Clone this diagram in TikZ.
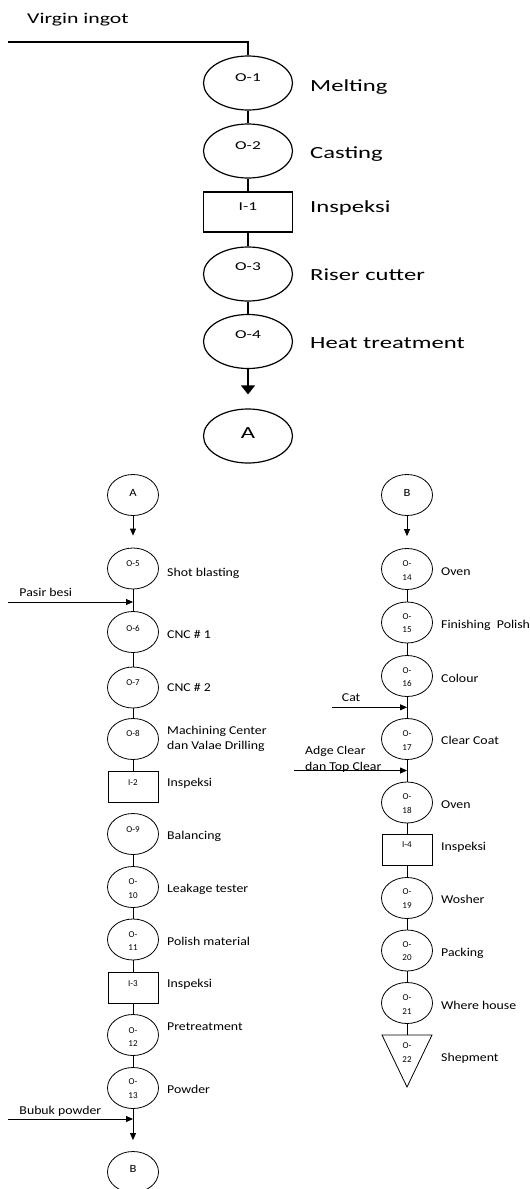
\documentclass[tikz,border=0pt]{standalone}
\usepackage{fontspec}
\setmainfont{Carlito}
\newfontfamily\wideface[FakeStretch=1.45]{Carlito}
\newfontfamily\midface[FakeStretch=1.15]{Carlito}
\usetikzlibrary{shapes.geometric,arrows.meta}

\tikzset{
  bigop/.style={draw, ellipse, line width=1.2pt, minimum width=89pt, minimum height=54pt, inner sep=0pt},
  bigbox/.style={draw, rectangle, line width=1.2pt, minimum width=89pt, minimum height=40pt, inner sep=0pt},
  op/.style={draw, ellipse, line width=0.8pt, minimum width=51pt, minimum height=41pt, inner sep=0pt},
  insp/.style={draw, rectangle, line width=0.8pt, minimum width=50pt, minimum height=31pt, inner sep=0pt},
  bigflow/.style={line width=1.2pt},
  flow/.style={line width=0.8pt},
  bigarr/.style={-{Triangle[width=14pt,length=9pt]}},
  arr/.style={-{Triangle[width=6pt,length=7pt]}},
  bigtxt/.style={anchor=base west, inner sep=0pt, font=\wideface\fontsize{17}{20}\selectfont},
  bigtag/.style={anchor=base, inner sep=0pt, font=\wideface\fontsize{12}{14}\selectfont},
  txt/.style={anchor=base west, inner sep=0pt, align=left, font=\midface\fontsize{12}{15.5}\selectfont},
  tag/.style={anchor=base, inner sep=0pt, align=center, font=\fontsize{9}{13.4}\selectfont},
  conn/.style={anchor=base, inner sep=0pt, font=\midface\fontsize{11}{13}\selectfont}
}

\begin{document}
\begin{tikzpicture}[x=1pt,y=1pt,yscale=-1,xscale=1]
\useasboundingbox (0,0) rectangle (530,1189);

%Shape: Ellipse
\node[bigop] (o1) at (248,83) {};
%Shape: Ellipse
\node[bigop] (o2) at (248,151) {};
%Shape: Rectangle
\node[bigbox] (i1) at (248,212) {};
%Shape: Ellipse
\node[bigop] (o3) at (248,274) {};
%Shape: Ellipse
\node[bigop] (o4) at (248,341.5) {};
%Shape: Ellipse
\node[bigop] (ta) at (248,436) {};
\coordinate (vin) at (8,42);

%Straight Lines
\draw[bigflow] (vin) -| (o1);
\draw[bigflow] (o1) -- (o2);
\draw[bigflow] (o2) -- (i1);
\draw[bigflow] (i1) -- (o3);
\draw[bigflow] (o3) -- (o4);
\draw[bigflow, bigarr, shorten >=14pt] (o4) -- (ta);

% Text Node
\node[bigtxt, font=\wideface\fontsize{15}{18}\selectfont] (vil) at (27,23.3) {Virgin ingot};
\node[bigtag] (o1t) at (248,81.7) {O-1};
\node[bigtxt] (o1l) at (310,91) {Melting};
\node[bigtag] (o2t) at (248,149) {O-2};
\node[bigtxt] (o2l) at (310,158.7) {Casting};
\node[bigtag] (i1t) at (248,210.7) {I-1};
\node[bigtxt] (i1l) at (310,212.3) {Inspeksi};
\node[bigtag] (o3t) at (248,270) {O-3};
\node[bigtxt] (o3l) at (310,280.7) {Riser cutter};
\node[bigtag] (o4t) at (248,338.3) {O-4};
\node[bigtxt] (o4l) at (310,348.3) {Heat treatment};
\node[bigtag, font=\wideface\fontsize{17}{20}\selectfont] (tat) at (248,438.3) {A};

%Shape: Ellipse (left column)
\node[op] (la) at (133,495) {};
\node[op] (o5) at (133,568.5) {};
\node[op] (o6) at (133,632) {};
\node[op] (o7) at (133,687.5) {};
\node[op] (o8) at (133,739) {};
\node[insp] (i2) at (133,786.5) {};
\node[op] (o9) at (133,834) {};
\node[op] (o10) at (133,887) {};
\node[op] (o11) at (133,939.5) {};
\node[insp] (i3) at (133,987.5) {};
\node[op] (o12) at (133,1035) {};
\node[op] (o13) at (133,1088) {};
\node[op] (lb) at (133,1172) {};
\coordinate (pb) at (8,602);
\coordinate (bp) at (8,1119);

%Straight Lines
\draw[flow, arr, shorten >=12pt] (la) -- (o5);
\draw[flow] (o5) -- (o6);
\draw[flow, arr] (pb) -- (pb -| o5);
\draw[flow] (o6) -- (o7);
\draw[flow] (o7) -- (o8);
\draw[flow] (o8) -- (i2);
\draw[flow] (o9) -- (o10);
\draw[flow] (o10) -- (o11);
\draw[flow] (o11) -- (i3);
\draw[flow] (i3) -- (o12);
\draw[flow] (o12) -- (o13);
\draw[flow, arr] (bp) -- (bp -| o13);
\draw[flow, arr, shorten >=11pt] (o13) -- (lb);

% Text Node (two-line nodes sit on their last line)
\node[conn] (lat) at (133,496.7) {A};
\node[tag] (o5t) at (133,566.7) {O-5};
\node[txt] (o5l) at (167,576) {Shot blasting};
\node[txt] (pbl) at (19.3,596.7) {Pasir besi};
\node[tag] (o6t) at (133,631.7) {O-6};
\node[txt] (o6l) at (167,638.3) {CNC \# 1};
\node[tag] (o7t) at (133,685) {O-7};
\node[txt] (o7l) at (167,691) {CNC \# 2};
\node[tag] (o8t) at (133,736) {O-8};
\node[txt] (o8l) at (167,749.5) {Machining Center\\dan Valae Drilling};
\node[tag] (i2t) at (133,785) {I-2};
\node[txt] (i2l) at (167,786) {Inspeksi};
\node[tag] (o9t) at (133,832) {O-9};
\node[txt] (o9l) at (167,839.3) {Balancing};
\node[tag] (o10t) at (133,898.3) {O-\\10};
\node[txt] (o10l) at (167,892.7) {Leakage tester};
\node[tag] (o11t) at (133,950.5) {O-\\11};
\node[txt] (o11l) at (167,945) {Polish material};
\node[tag] (i3t) at (133,986) {I-3};
\node[txt] (i3l) at (167,987.3) {Inspeksi};
\node[tag] (o12t) at (133,1046.5) {O-\\12};
\node[txt] (o12l) at (167,1030.7) {Pretreatment};
\node[tag] (o13t) at (133,1098.3) {O-\\13};
\node[txt] (o13l) at (167,1093.3) {Powder};
\node[txt] (bpl) at (19.3,1114.3) {Bubuk powder};
\node[conn] (lbt) at (133,1172.7) {B};

%Shape: Ellipse (right column)
\node[op] (rb) at (407,495) {};
\node[op] (o14) at (407,569) {};
\node[op] (o15) at (407,622.5) {};
\node[op] (o16) at (407,676) {};
\node[op] (o17) at (407,739) {};
\node[op] (o18) at (407,802.5) {};
\node[insp] (i4) at (407,850) {};
\node[op] (o19) at (407,898) {};
\node[op] (o20) at (407,950.5) {};
\node[op] (o21) at (407,1003) {};
\coordinate (o22) at (407,1035);
\coordinate (cat) at (331.7,707.3);
\coordinate (adg) at (294,770.5);

%Shape: Triangle
\draw[flow] (o22) ++(-25,0) -- ++(50,0) -- ++(-25,52) -- cycle;

%Straight Lines
\draw[flow, arr, shorten >=12pt] (rb) -- (o14);
\draw[flow] (o14) -- (o15);
\draw[flow] (o15) -- (o16);
\draw[flow] (o16) -- (o17);
\draw[flow, arr] (cat) -- (cat -| o16);
\draw[flow] (o17) -- (o18);
\draw[flow, arr] (adg) -- (adg -| o17);
\draw[flow] (o18) -- (i4);
\draw[flow] (i4) -- (o19);
\draw[flow] (o19) -- (o20);
\draw[flow] (o20) -- (o21);
\draw[flow] (o21) -- (o22);

% Text Node
\node[conn] (rbt) at (407,496.7) {B};
\node[tag] (o14t) at (407,580) {O-\\14};
\node[txt] (o14l) at (441,575) {Oven};
\node[tag] (o15t) at (407,632.7) {O-\\15};
\node[txt] (o15l) at (441,628.3) {Finishing\ \ Polish};
\node[tag] (o16t) at (407,686.7) {O-\\16};
\node[txt] (o16l) at (441,682.3) {Colour};
\node[txt] (catl) at (341.7,701.7) {Cat};
\node[tag] (o17t) at (407,750) {O-\\17};
\node[txt] (o17l) at (441,744.3) {Clear Coat};
\node[txt] (adgl) at (305,770) {Adge Clear\\dan Top Clear};
\node[tag] (o18t) at (407,813) {O-\\18};
\node[txt] (o18l) at (441,808.3) {Oven};
\node[tag] (i4t) at (407,847.7) {I-4};
\node[txt] (i4l) at (441,850) {Inspeksi};
\node[tag] (o19t) at (407,908) {O-\\19};
\node[txt] (o19l) at (441,903.3) {Wosher};
\node[tag] (o20t) at (407,960.7) {O-\\20};
\node[txt] (o20l) at (441,956) {Packing};
\node[tag] (o21t) at (407,1014) {O-\\21};
\node[txt] (o21l) at (441,1009) {Where house};
\node[tag] (o22t) at (407,1062.3) {O-\\22};
\node[txt] (o22l) at (441,1061.7) {Shepment};

\end{tikzpicture}
\end{document}
